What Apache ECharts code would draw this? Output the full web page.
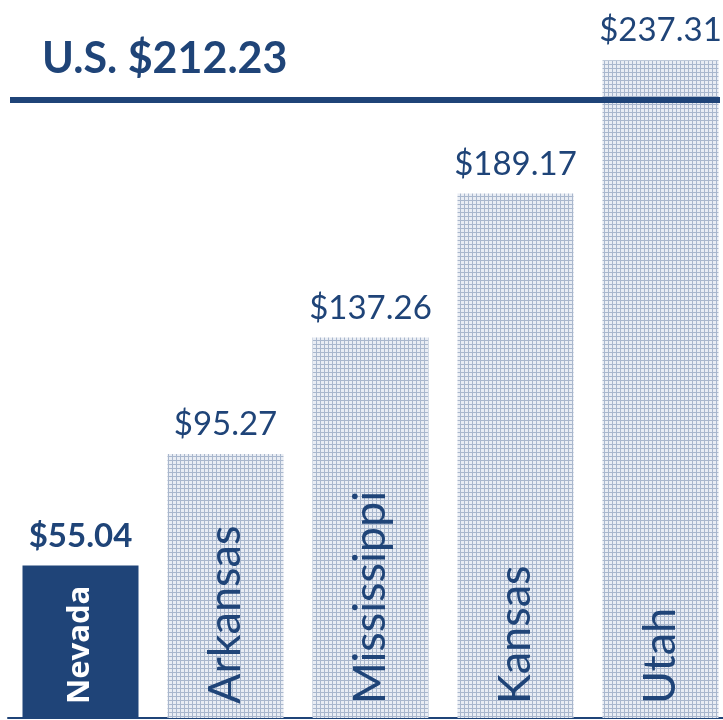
<!DOCTYPE html>
<html>
<head>
<meta charset="utf-8">
<script src="https://cdn.jsdelivr.net/npm/echarts@6/dist/echarts.min.js"></script>
<style>
  html, body { margin: 0; padding: 0; background: #fff; overflow: hidden; }
  /* last bar runs past the right edge in the original, so the canvas is a bit wider than the window */
  #main { width: 733px; height: 720px; }
</style>
</head>
<body>
<div id="main"></div>
<script>
var states = ["Nevada", "Arkansas", "Mississippi", "Kansas", "Utah"];
var values = [55.04, 95.27, 137.26, 189.17, 237.31];
var usLabel = "U.S. $212.23";

var navy = "#1f4478";

// hatched fill like the original bars
var tile = document.createElement("canvas");
tile.width = 4;
tile.height = 4;
var ctx = tile.getContext("2d");
ctx.fillStyle = "#e9edf4";
ctx.fillRect(0, 0, 4, 4);
ctx.fillStyle = "#a9b7cd";
ctx.fillRect(0, 0, 4, 1);
ctx.fillRect(0, 0, 1, 4);

var myChart = echarts.init(document.getElementById("main"));

var option = {
  backgroundColor: "#fff",
  animation: false,
  grid: { left: 8, top: 25, right: 0, bottom: 2 },
  xAxis: {
    type: "category",
    data: states,
    axisLine: { lineStyle: { color: navy, width: 2 } },
    axisTick: { show: false },
    axisLabel: { show: false }
  },
  yAxis: {
    type: "value",
    min: 0,
    max: 250,
    show: false,
    splitLine: { show: false }
  },
  series: [
    {
      type: "bar",
      data: values.map(function (v, i) {
        return {
          value: v,
          itemStyle: i === 0 ? { color: navy } : { color: { image: tile, repeat: "repeat" } },
          label: i === 0 ? { fontWeight: "bold" } : {}
        };
      }),
      barWidth: 116,
      label: {
        show: true,
        position: "top",
        distance: 13,
        fontFamily: "Lato",
        fontSize: 33,
        color: navy,
        formatter: function (p) { return "$" + p.value.toFixed(2); }
      }
    },
    {
      // category names written inside the bars
      type: "bar",
      data: values.map(function (v, i) {
        return {
          value: v,
          label: i === 0
            ? { color: "#fff", fontWeight: "bold", fontSize: 31, fontFamily: "Open Sans" }
            : {}
        };
      }),
      barWidth: 116,
      barGap: "-100%",
      itemStyle: { color: "transparent" },
      silent: true,
      label: {
        show: true,
        position: "insideBottom",
        distance: 14,
        rotate: 90,
        align: "left",
        verticalAlign: "middle",
        fontFamily: "Lato",
        fontSize: 45,
        color: navy,
        formatter: function (p) { return p.name; }
      }
    }
  ],
  graphic: [
    {
      type: "rect",
      shape: { x: 10, y: 97, width: 710, height: 6 },
      style: { fill: navy },
      z: 10
    },
    {
      type: "text",
      left: 42,
      top: 38,
      style: {
        text: usLabel,
        font: "bold 43px Lato",
        fill: navy
      }
    }
  ]
};

myChart.setOption(option);
</script>
</body>
</html>
